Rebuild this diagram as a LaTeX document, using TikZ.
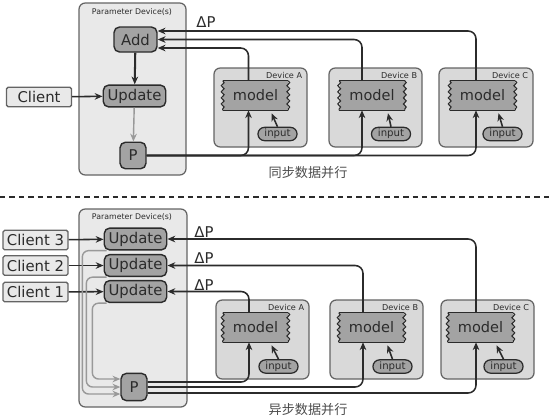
\documentclass[tikz,border=0pt]{standalone}
\usepackage{fontspec}
\setmainfont{DejaVu Sans}
\newfontfamily\cjk{Noto Sans CJK SC}
\usetikzlibrary{arrows.meta,calc,decorations.pathmorphing}

\definecolor{paramfill}{HTML}{E9E9E9}
\definecolor{devfill}{HTML}{D9D9D9}
\definecolor{opfill}{HTML}{A3A3A3}
\definecolor{darkline}{HTML}{2B2B2B}
\definecolor{boxline}{HTML}{646464}

% wavy left and right sides of a model node
\newcommand{\wavysides}[1]{%
  \draw[modeledge] (#1.north west) -- (#1.north east) (#1.south west) -- (#1.south east);
  \draw[modeledge, decorate] (#1.north east) -- (#1.south east);
  \draw[modeledge, decorate] (#1.north west) -- (#1.south west);}

\begin{document}
\begin{tikzpicture}[x = 0.64pt, y = -0.64pt,
  parambox/.style = {draw = boxline, fill = paramfill, rounded corners = 4pt, line width = 0.8pt},
  devbox/.style   = {draw = boxline, fill = devfill, rounded corners = 4pt, line width = 0.8pt},
  plabel/.style   = {font = \fontsize{5}{6}\selectfont, text = darkline},
  dlabel/.style   = {font = \fontsize{5.2}{6}\selectfont, text = darkline, anchor = north east, inner sep = 1pt},
  opbox/.style    = {draw = darkline, fill = opfill, rounded corners = 3.5pt, line width = 0.9pt,
                     inner sep = 0pt, text = darkline, font = \fontsize{9.5}{10}\selectfont},
  clientbox/.style = {draw = boxline, fill = paramfill, rounded corners = 1pt, line width = 0.8pt,
                     minimum width = 41.5pt, minimum height = 12.5pt, inner sep = 0pt,
                     text = darkline, font = \fontsize{9.5}{10}\selectfont},
  modelbox/.style = {fill = opfill, minimum width = 41.6pt, minimum height = 18.5pt, inner sep = 0pt,
                     text = darkline, font = \fontsize{9.3}{10}\selectfont},
  modeledge/.style = {draw = darkline, line width = 0.7pt,
                     decoration = {snake, amplitude = 0.9pt, segment length = 3.9pt}},
  inbox/.style    = {draw = darkline, fill = opfill, rounded corners = 4.2pt, line width = 0.8pt,
                     minimum width = 25pt, minimum height = 8.5pt, inner sep = 0pt,
                     text = darkline, font = \fontsize{6.5}{7}\selectfont},
  dp/.style       = {font = \fontsize{9.5}{10}\selectfont, text = darkline},
  caption/.style  = {font = \cjk\fontsize{8.4}{9}\selectfont, text = darkline!85},
  flow/.style     = {-{Stealth[length = 5pt, width = 4.2pt, inset = 1.6pt]}, draw = darkline,
                     line width = 1pt, rounded corners = 5pt},
  grayflow/.style = {-{Stealth[length = 5pt, width = 4.2pt, inset = 1.6pt]}, draw = gray!80,
                     line width = 0.9pt, rounded corners = 4pt}]

  \useasboundingbox (0,0) rectangle (550,419);

  % Synchronous data parallelism
  \begin{scope}[shift={(0,0)}]

    % Parameter device
    \draw[parambox] (79,3) rectangle (186,175);
    \node[plabel] (ptop) at (132,12) {Parameter Device(s)};

    \node[opbox, minimum width = 27.5pt, minimum height = 16pt] (add) at (135.5,39.5) {Add};
    \node[opbox, minimum width = 40pt, minimum height = 14pt] (upd) at (134.5,96) {Update};
    \node[opbox, minimum width = 16.6pt, minimum height = 17pt] (pt) at (133,155.5) {P};
    \node[clientbox] (cl) at (39,97) {Client};

    \draw[flow] (cl) -- (upd);
    \draw[flow, line width = 1.3pt] (add) -- (upd);
    \draw[grayflow] (upd) -- (pt);

    % Devices
    \draw[devbox] (214,68) rectangle (307,147);
    \node[dlabel] (la) at (304,70) {Device A};
    \node[modelbox] (ma) at (255.5,95.5) {model};
    \wavysides{ma}
    \node[inbox] (ia) at (277.5,134) {input};

    \draw[devbox] (329,68) rectangle (422,147);
    \node[dlabel] (lb) at (419,70) {Device B};
    \node[modelbox] (mb) at (372,95.5) {model};
    \wavysides{mb}
    \node[inbox] (ib) at (391,134) {input};

    \draw[devbox] (439,68) rectangle (533,147);
    \node[dlabel] (lc) at (530,70) {Device C};
    \node[modelbox] (mc) at (482.5,95.5) {model};
    \wavysides{mc}
    \node[inbox] (ic) at (502.5,134) {input};

    \draw[flow] (ia.north) -- ($(ma.south)+(16,3)$);
    \draw[flow] (ib.north) -- ($(mb.south)+(16,3)$);
    \draw[flow] (ic.north) -- ($(mc.south)+(16,3)$);

    % Gradients back to Add
    \node[dp] (dpt) at (206,22) {ΔP};
    \draw[flow] ($(ma.north)+(-7,0)$) |- ($(add.east)+(0,8.5)$);
    \draw[flow] ($(mb.north)+(-10,0)$) |- (add.east);
    \draw[flow] ($(mc.north)+(-6.5,0)$) |- ($(add.east)+(0,-8.5)$);

    % Parameters out to devices
    \draw[flow] (pt.east) -| ($(ma.south)+(-7,0)$);
    \draw[flow] (pt.east) -| ($(mb.south)+(-10,0)$);
    \draw[flow] (pt.east) -| ($(mc.south)+(-6.5,0)$);

    \node[caption] (cap1) at (308,173) {同步数据并行};

  \end{scope}

  \draw[darkline, line width = 1.2pt, dash pattern = on 3.5pt off 2.5pt] (0,197) -- (550,197);

  % Asynchronous data parallelism
  \begin{scope}[shift={(0,0)}]

    % Parameter device
    \draw[parambox] (79,209) rectangle (187,407);
    \node[plabel] (pbot) at (132,217) {Parameter Device(s)};

    \node[opbox, minimum width = 40pt, minimum height = 14pt] (u3) at (135.5,239) {Update};
    \node[opbox, minimum width = 40pt, minimum height = 14pt] (u2) at (135.5,265.5) {Update};
    \node[opbox, minimum width = 40pt, minimum height = 14pt] (u1) at (135.5,291.5) {Update};
    \node[opbox, minimum width = 16.6pt, minimum height = 17.5pt] (pb) at (134,387) {P};

    \node[clientbox] (c3) at (35.5,240) {Client 3};
    \node[clientbox] (c2) at (35.5,265.5) {Client 2};
    \node[clientbox] (c1) at (35.5,292) {Client 1};

    \draw[flow] (c3) -- (u3);
    \draw[flow] (c2) -- (u2);
    \draw[flow] (c1) -- (u1);

    \draw[grayflow] ($(u3.south west)+(3,0)$) -| ($(pb.west)+(-38,7)$) -- ($(pb.west)+(0,7)$);
    \draw[grayflow] ($(u2.south west)+(3,0)$) -| ($(pb.west)+(-34,0)$) -- (pb.west);
    \draw[grayflow] ($(u1.south west)+(3,0)$) -| ($(pb.west)+(-28,-8)$) -- ($(pb.west)+(0,-8)$);

    % Devices
    \draw[devbox] (216,300) rectangle (309,379);
    \node[dlabel] (la2) at (306,302) {Device A};
    \node[modelbox] (ma2) at (255.5,327.5) {model};
    \wavysides{ma2}
    \node[inbox] (ia2) at (278.5,366.5) {input};

    \draw[devbox] (330,300) rectangle (423,379);
    \node[dlabel] (lb2) at (420,302) {Device B};
    \node[modelbox] (mb2) at (371.5,327.5) {model};
    \wavysides{mb2}
    \node[inbox] (ib2) at (392.5,366.5) {input};

    \draw[devbox] (441,300) rectangle (534,379);
    \node[dlabel] (lc2) at (531,302) {Device C};
    \node[modelbox] (mc2) at (480.5,327.5) {model};
    \wavysides{mc2}
    \node[inbox] (ic2) at (503.5,366.5) {input};

    \draw[flow] (ia2.north) -- ($(ma2.south)+(16,3)$);
    \draw[flow] (ib2.north) -- ($(mb2.south)+(16,3)$);
    \draw[flow] (ic2.north) -- ($(mc2.south)+(16,3)$);

    % Gradients back to each Update
    \node[dp] (dp3) at (204,232) {ΔP};
    \node[dp] (dp2) at (204,258) {ΔP};
    \node[dp] (dp1) at (204,285) {ΔP};
    \draw[flow] ($(ma2.north)+(-6.5,0)$) |- (u1.east);
    \draw[flow] ($(mb2.north)+(-8.5,0)$) |- (u2.east);
    \draw[flow] ($(mc2.north)+(-4.5,0)$) |- (u3.east);

    % Parameters out to devices
    \draw[flow] ($(pb.east)+(0,-5)$) -| ($(ma2.south)+(-6.5,0)$);
    \draw[flow] (pb.east) -| ($(mb2.south)+(-8.5,0)$);
    \draw[flow] ($(pb.east)+(0,6)$) -| ($(mc2.south)+(-4.5,0)$);

    \node[caption] (cap2) at (308,410) {异步数据并行};

  \end{scope}

\end{tikzpicture}
\end{document}
